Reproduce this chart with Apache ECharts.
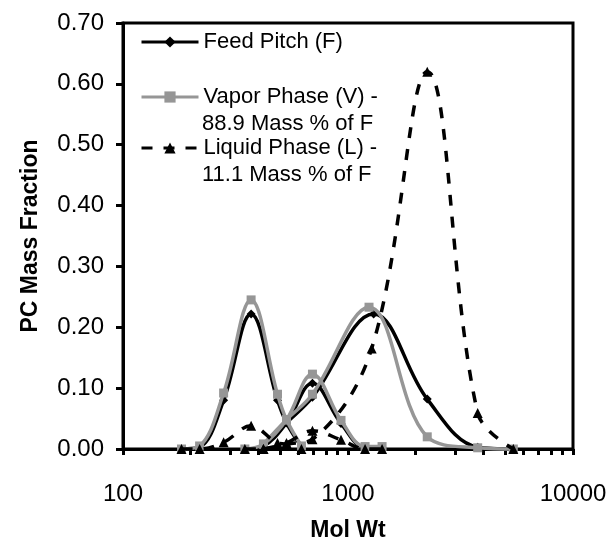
<!DOCTYPE html>
<html>
<head>
<meta charset="utf-8">
<script src="https://cdn.jsdelivr.net/npm/echarts@6/dist/echarts.min.js"></script>
<style>
html,body{margin:0;padding:0;background:#fff;}
#chart{width:614px;height:542px;}
</style>
</head>
<body>
<div id="chart"></div>
<script>
// Segments separated by null (each segment is a separate smoothed run of points)
const feedName = 'Feed Pitch (F)';
const vaporName = 'Vapor Phase (V) -';
const vaporName2 = '88.9 Mass % of F';
const liquidName = 'Liquid Phase (L) -';
const liquidName2 = '11.1 Mass % of F';

const feedMW = [182, 219, 280, 371, 486, 533, 621, null, 348, 421, 533, 695, 931, 1191, 1417, null, 421, 533, 695, 1300, 2250, 3770, 5430];
const feedPC = [0.000, 0.003, 0.080, 0.222, 0.080, 0.043, 0.004, null, 0.000, 0.005, 0.043, 0.108, 0.042, 0.003, 0.003, null, 0.005, 0.043, 0.085, 0.222, 0.082, 0.003, 0.000];

const vaporMW = [182, 219, 280, 371, 486, 533, 621, null, 348, 421, 533, 695, 931, 1191, 1417, null, 421, 533, 695, 1240, 2250, 3770, 5430];
const vaporPC = [0.000, 0.005, 0.092, 0.245, 0.090, 0.048, 0.005, null, 0.000, 0.008, 0.048, 0.123, 0.047, 0.004, 0.004, null, 0.008, 0.048, 0.090, 0.233, 0.020, 0.002, 0.000];

const liquidMW = [182, 219, 280, 371, 486, 533, 621, null, 348, 421, 533, 695, 931, 1191, 1417, null, 421, 533, 695, 1274, 2250, 3770, 5430];
const liquidPC = [0.000, 0.000, 0.011, 0.038, 0.010, 0.008, 0.000, null, 0.000, 0.000, 0.010, 0.030, 0.015, 0.000, 0.000, null, 0.000, 0.008, 0.016, 0.165, 0.620, 0.059, 0.000];

const xTickLabels = ['100', '1000', '10000'];
const yTickLabels = ['0.00', '0.10', '0.20', '0.30', '0.40', '0.50', '0.60', '0.70'];

const FONT = 'Liberation Sans, Arial, Helvetica, sans-serif';

function segments(mw, pc) {
  const segs = [];
  let cur = [];
  for (let i = 0; i < mw.length; i++) {
    if (mw[i] === null) { if (cur.length) segs.push(cur); cur = []; }
    else cur.push([mw[i], pc[i]]);
  }
  if (cur.length) segs.push(cur);
  return segs;
}

function makeSeries(name, mw, pc, style) {
  return segments(mw, pc).map(seg => Object.assign({
    name: name,
    type: 'line',
    data: seg,
    smooth: 0.38,
    showAllSymbol: true,
    clip: false,
    z: style.z
  }, style.opts));
}

const feedStyle = { z: 2, opts: {
  symbol: 'diamond', symbolSize: 9,
  lineStyle: { color: '#000', width: 3.5 },
  itemStyle: { color: '#000' }
}};
const vaporStyle = { z: 3, opts: {
  symbol: 'rect', symbolSize: 9,
  lineStyle: { color: '#969696', width: 3.5 },
  itemStyle: { color: '#969696' }
}};
const liquidStyle = { z: 4, opts: {
  symbol: 'triangle', symbolSize: 10,
  lineStyle: { color: '#000', width: 3.5, type: [11, 11] },
  itemStyle: { color: '#000' }
}};

const series = [].concat(
  makeSeries(feedName, feedMW, feedPC, feedStyle),
  makeSeries(vaporName, vaporMW, vaporPC, vaporStyle),
  makeSeries(liquidName, liquidMW, liquidPC, liquidStyle)
);

const legendCommon = {
  orient: 'vertical', left: 140, padding: 0, itemWidth: 57, itemHeight: 14, itemGap: 5,
  lineStyle: { width: 3 },
  textStyle: { fontFamily: FONT, fontSize: 22, color: '#000' },
  selectedMode: false
};

const chart = echarts.init(document.getElementById('chart'), null, { renderer: 'canvas' });
chart.setOption({
  animation: false,
  backgroundColor: '#fff',
  grid: { left: 123, right: 41, top: 23, bottom: 93, containLabel: false, outerBoundsMode: 'none',
          show: true, borderColor: '#000', borderWidth: 3, backgroundColor: 'transparent' },
  legend: [
    Object.assign({}, legendCommon, { top: 31, data: [feedName] }),
    Object.assign({}, legendCommon, { top: 86, data: [vaporName] }),
    Object.assign({}, legendCommon, { top: 137, data: [liquidName] })
  ],
  graphic: [
    { type: 'text', left: 202, top: 113, style: { text: vaporName2, font: '22px ' + FONT, fill: '#000' } },
    { type: 'text', left: 202, top: 164, style: { text: liquidName2, font: '22px ' + FONT, fill: '#000' } }
  ],
  xAxis: {
    type: 'log', logBase: 10, min: 100, max: 10000, interval: 1,
    name: 'Mol Wt', nameLocation: 'middle', nameGap: 70,
    nameTextStyle: { fontFamily: FONT, fontSize: 23, fontWeight: 'bold', color: '#000' },
    axisLine: { lineStyle: { color: '#000', width: 3 } },
    axisTick: { show: true, inside: false, length: 6, lineStyle: { color: '#000', width: 3 } },
    minorTick: { show: true, splitNumber: 9, length: 6, lineStyle: { color: '#000', width: 3 } },
    splitLine: { show: false },
    axisLabel: {
      margin: 33, fontFamily: FONT, fontSize: 24, color: '#000',
      formatter: function (v) {
        const idx = Math.round(Math.log10(v)) - 2;
        return xTickLabels[idx] !== undefined ? xTickLabels[idx] : '';
      }
    }
  },
  yAxis: {
    type: 'value', min: 0, max: 0.7, interval: 0.1,
    name: 'PC Mass Fraction', nameLocation: 'middle', nameGap: 81, nameRotate: 90,
    nameTextStyle: { fontFamily: FONT, fontSize: 23, fontWeight: 'bold', color: '#000' },
    axisLine: { show: true, lineStyle: { color: '#000', width: 3 } },
    axisTick: { show: true, inside: false, length: 7, lineStyle: { color: '#000', width: 3 } },
    splitLine: { show: false },
    axisLabel: {
      margin: 19, fontFamily: FONT, fontSize: 24, color: '#000',
      formatter: function (v) {
        const idx = Math.round(v * 10);
        return yTickLabels[idx] !== undefined ? yTickLabels[idx] : '';
      }
    }
  },
  series: series
});
</script>
</body>
</html>
